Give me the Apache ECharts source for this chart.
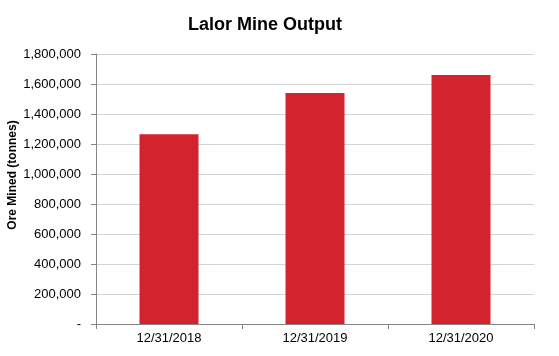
<!DOCTYPE html>
<html><head><meta charset="utf-8">
<script src="https://cdn.jsdelivr.net/npm/echarts@6/dist/echarts.min.js"></script>
<style>html,body{margin:0;padding:0;background:#fff}#c{width:559px;height:356px}</style>
</head><body><div id="c"></div>
<script>
const categories = ['12/31/2018', '12/31/2019', '12/31/2020'];
const oreMined = [1265000, 1540000, 1660000];
const yTicks = { min: 0, max: 1800000, interval: 200000 };
const titleText = 'Lalor Mine Output';
const yAxisName = 'Ore Mined (tonnes)';

const chart = echarts.init(document.getElementById('c'), null, { renderer: 'canvas' });
const font = 'Arial, "Liberation Sans", sans-serif';
chart.setOption({
  animation: false,
  title: {
    text: titleText, left: 260, top: 11, textAlign: 'center',
    textStyle: { fontFamily: font, fontSize: 18, fontWeight: 'bold', color: '#000' }
  },
  grid: { left: 96, right: 25, top: 54, bottom: 32, containLabel: false, outerBoundsMode: 'none' },
  xAxis: {
    type: 'category', data: categories,
    axisLine: { lineStyle: { color: '#868686' } },
    axisTick: { show: true, length: 5, alignWithLabel: false, lineStyle: { color: '#868686' } },
    axisLabel: { fontFamily: font, fontSize: 13, color: '#000', margin: 8 }
  },
  yAxis: {
    type: 'value', min: yTicks.min, max: yTicks.max, interval: yTicks.interval,
    name: yAxisName, nameLocation: 'middle', nameGap: 77, nameRotate: 90, nameMoveOverlap: false,
    nameTextStyle: { fontFamily: font, fontSize: 12, fontWeight: 'bold', color: '#000', padding: [0, 0, 0, 28] },
    axisLine: { show: true, lineStyle: { color: '#868686' } },
    axisTick: { show: true, length: 5, lineStyle: { color: '#868686' } },
    axisLabel: {
      fontFamily: font, fontSize: 13, color: '#000', margin: 15,
      formatter: v => v === 0 ? '-' : v.toLocaleString('en-US')
    },
    splitLine: { lineStyle: { color: '#d4d4d4' } }
  },
  series: [{
    type: 'bar', data: oreMined, barWidth: 59,
    itemStyle: { color: '#d2232f' }
  }]
});
</script></body></html>
